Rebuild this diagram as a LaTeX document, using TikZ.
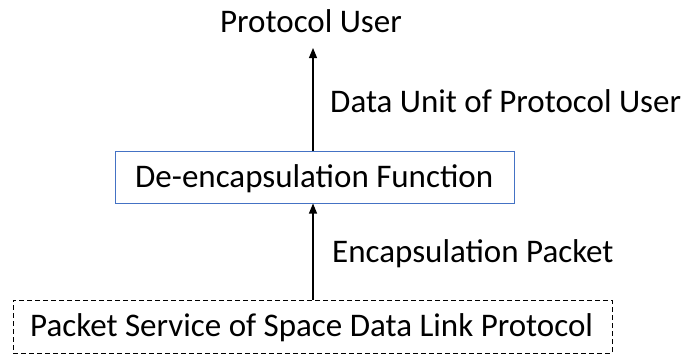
\documentclass[tikz,border=0pt]{standalone}
\usepackage{fontspec}
\setmainfont{Carlito}
\usetikzlibrary{arrows.meta}
\definecolor{boxblue}{RGB}{68,114,196}
\begin{document}
\begin{tikzpicture}[x=1pt,y=-1pt,
  lbl/.style={inner sep=0pt,font=\fontsize{33}{38}\selectfont},
  funcbox/.style={draw=boxblue,line width=1pt,minimum width=399pt,minimum height=52pt,inner sep=0pt},
  svcbox/.style={draw,dash pattern=on 5pt off 3pt,line width=1pt,minimum width=599pt,minimum height=53pt,inner sep=0pt},
  conn/.style={-{Triangle[width=8pt,length=10pt]},line width=1.1pt}]
\useasboundingbox (0,0) rectangle (687,356);
\node[lbl] (user) at (311,21) {Protocol User};
\node[funcbox] (func) at (314.5,177) {};
\node[lbl,anchor=west] (functxt) at (135,179) {De-encapsulation Function};
\node[svcbox] (svc) at (312.5,326.5) {};
\node[lbl,anchor=west] (svctxt) at (30,328) {Packet Service of Space Data Link Protocol};
\coordinate (utip) at (313,48);
\draw[conn] (func.north -| utip) -- (utip);
\draw[conn] (svc.north -| utip) -- (func.south -| utip);
\node[lbl,anchor=west] (dulbl) at (330,101) {Data Unit of Protocol User};
\node[lbl,anchor=west] (eplbl) at (332,254) {Encapsulation Packet};
\end{tikzpicture}
\end{document}
